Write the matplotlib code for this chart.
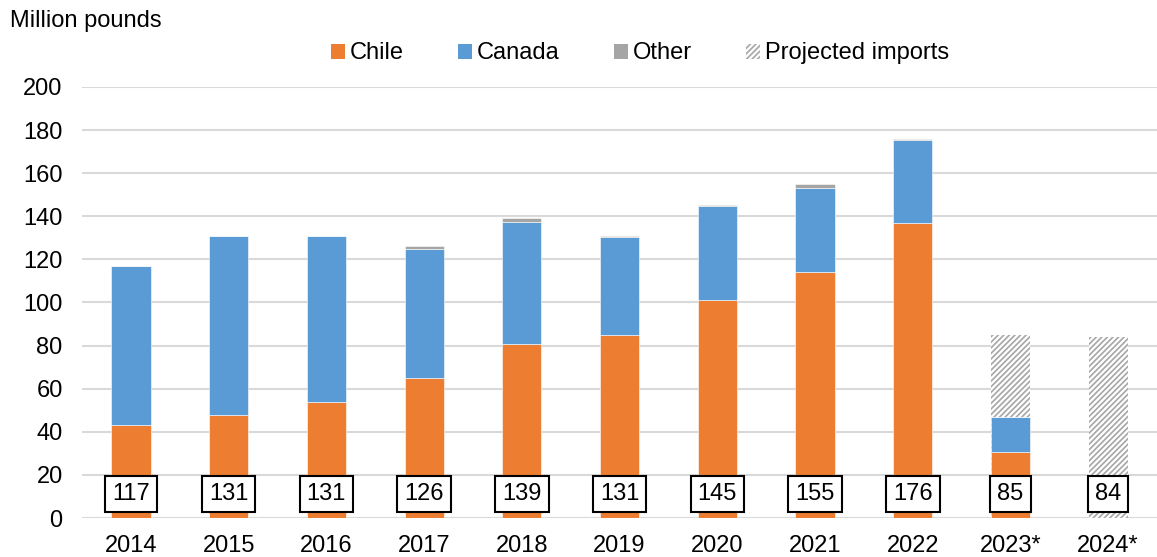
import numpy as np
import matplotlib.pyplot as plt
from matplotlib.patches import Patch

plt.rcParams['font.family'] = ['Liberation Sans', 'DejaVu Sans']

years = ['2014', '2015', '2016', '2017', '2018', '2019', '2020', '2021', '2022', '2023*', '2024*']
chile = [43, 48, 54, 65, 80.5, 85, 101, 114, 137, 30.5, 0]
canada = [73.7, 82.7, 76.7, 59.8, 57, 45.2, 43.8, 39.3, 38.4, 16.5, 0]
other = [0.3, 0.3, 0.3, 1.2, 1.5, 0.8, 0.2, 1.7, 0.6, 0, 0]
projected = [0, 0, 0, 0, 0, 0, 0, 0, 0, 85, 84]
totals = [117, 131, 131, 126, 139, 131, 145, 155, 176, 85, 84]

c_chile = '#ED7D31'
c_canada = '#5B9BD5'
c_other = '#A5A5A5'

fig = plt.figure(figsize=(11.57, 5.57), dpi=100)
ax = fig.add_axes([0.071, 0.070, 0.929, 0.774])

x = np.arange(len(years))
w = 0.4
plt.rcParams['hatch.linewidth'] = 1.2

# projected totals go behind as hatched bars
ax.bar(x, projected, w, color='white', edgecolor='#a6a6a6', hatch='//////', linewidth=0, zorder=2)

ax.bar(x, chile, w, color=c_chile, edgecolor='white', linewidth=0.4, zorder=3)
ax.bar(x, canada, w, bottom=chile, color=c_canada, edgecolor='white', linewidth=0.4, zorder=3)
bottom2 = np.array(chile) + np.array(canada)
ax.bar(x, other, w, bottom=bottom2, color=c_other, edgecolor='white', linewidth=0.4, zorder=3)

for xi, t in zip(x, totals):
    ax.text(xi, 11, str(t), ha='center', va='center', fontsize=17, zorder=5,
            bbox=dict(boxstyle='square,pad=0.3', facecolor='white', edgecolor='black', linewidth=1.5))

ax.set_xlim(-0.5, len(years) - 0.5)
ax.set_ylim(0, 200)
ax.set_yticks(range(0, 201, 20))
ax.set_xticks(x)
ax.set_xticklabels(years)
ax.tick_params(axis='both', length=0, labelsize=17)
ax.tick_params(axis='y', pad=14)
ax.tick_params(axis='x', pad=12)
ax.grid(axis='y', color='#d9d9d9', linewidth=1.5, zorder=0)
ax.set_axisbelow(True)
for s in ax.spines.values():
    s.set_visible(False)

fig.text(0.009, 0.963, 'Million pounds', fontsize=17, ha='left', va='center')

handles = [
    Patch(facecolor=c_chile, edgecolor='none', label='Chile'),
    Patch(facecolor=c_canada, edgecolor='none', label='Canada'),
    Patch(facecolor=c_other, edgecolor='none', label='Other'),
    Patch(facecolor='white', edgecolor='#a6a6a6', hatch='//////', linewidth=0, label='Projected imports'),
]
fig.legend(handles=handles, loc='center', bbox_to_anchor=(0.553, 0.904), ncol=4, frameon=False,
           fontsize=17, handlelength=0.6, handleheight=0.6, handletextpad=0.2, columnspacing=2.3)

fig.savefig('out.png', dpi=100)
